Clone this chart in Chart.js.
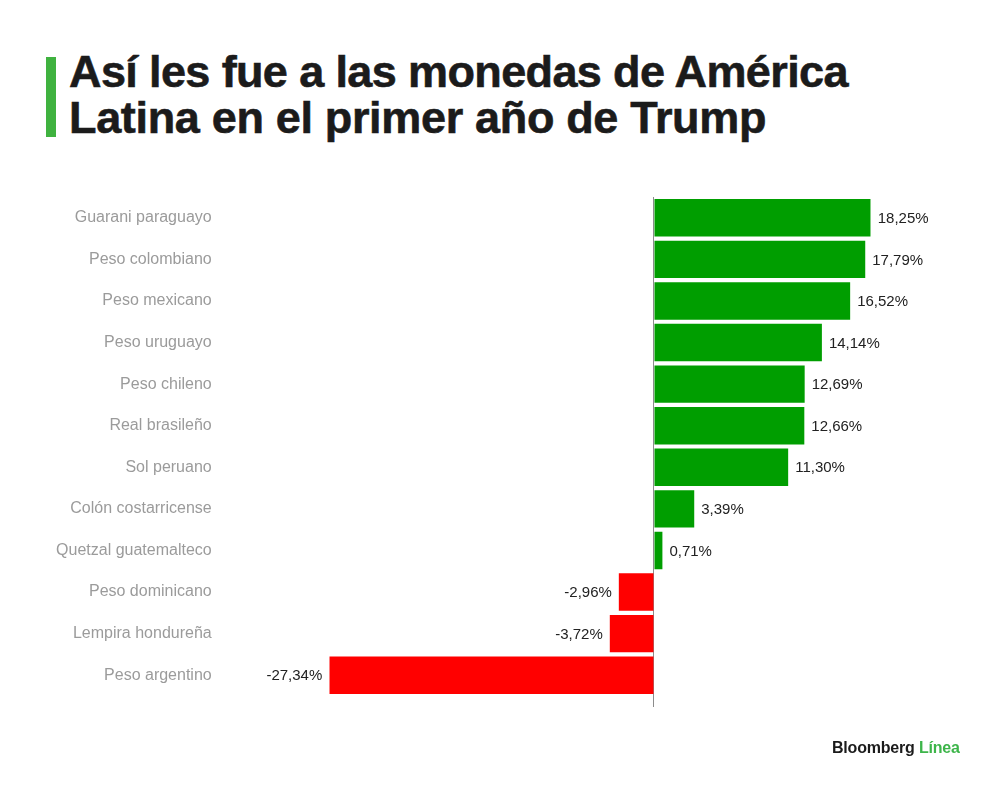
<!DOCTYPE html>
<html>
<head>
<meta charset="utf-8">
<script src="https://cdn.jsdelivr.net/npm/chart.js@4.4.1/dist/chart.umd.min.js"></script>
<style>
  html, body { margin: 0; padding: 0; background: #ffffff; }
  body { width: 1000px; height: 790px; position: relative; overflow: hidden; }
  #wrap { position: absolute; left: 0; top: 0; width: 1000px; height: 790px; }
  #bar { position: absolute; left: 46px; top: 57px; width: 10px; height: 80px; background: #3fb23f; }
  #title { position: absolute; left: 69px; top: 49px; font-family: "Liberation Sans", Arial, sans-serif;
           font-weight: bold; font-size: 45px; line-height: 45.5px; color: #1b1b1b; white-space: nowrap;
           -webkit-text-stroke: 0.6px #1b1b1b; }
  #title span { display: block; }
  #logo { position: absolute; left: 832px; top: 739px; font-family: "Liberation Sans", Arial, sans-serif;
          font-weight: bold; font-size: 16px; color: #1b1b1b; white-space: nowrap; letter-spacing: -0.2px; }
  #logo b { color: #3db54a; }
</style>
</head>
<body>
<div id="bar"></div>
<div id="title"><span id="t1">Así les fue a las monedas de América</span><span id="t2">Latina en el primer año de Trump</span></div>
<div id="wrap"><canvas id="c" width="1000" height="790"></canvas></div>
<div id="logo">Bloomberg <b>Línea</b></div>
<script>
const categories = [
  "Guarani paraguayo", "Peso colombiano", "Peso mexicano", "Peso uruguayo",
  "Peso chileno", "Real brasileño", "Sol peruano", "Colón costarricense",
  "Quetzal guatemalteco", "Peso dominicano", "Lempira hondureña", "Peso argentino"
];
const changes = [18.25, 17.79, 16.52, 14.14, 12.69, 12.66, 11.30, 3.39, 0.71, -2.96, -3.72, -27.34];
const xMin = -27.34;
const xMax = 18.25;

// fit title line widths
(function fitTitle() {
  const targets = { t1: 779, t2: 697 };
  for (const id in targets) {
    const el = document.getElementById(id);
    el.style.display = 'inline-block';
    const w = el.getBoundingClientRect().width;
    const n = el.textContent.length;
    const ls = (targets[id] - w) / n;
    el.style.letterSpacing = ls.toFixed(2) + 'px';
    el.style.display = 'block';
  }
})();

const valueLabels = {
  id: 'valueLabels',
  afterDatasetsDraw(chart) {
    const ctx = chart.ctx;
    const meta = chart.getDatasetMeta(0);
    const data = chart.data.datasets[0].data;
    ctx.save();
    ctx.font = '15px "Liberation Sans", Arial, sans-serif';
    ctx.fillStyle = '#222222';
    ctx.textBaseline = 'middle';
    meta.data.forEach((el, i) => {
      const v = data[i];
      const txt = v.toFixed(2).replace('.', ',') + '%';
      if (v >= 0) { ctx.textAlign = 'left'; ctx.fillText(txt, el.x + 7, el.y + 1); }
      else { ctx.textAlign = 'right'; ctx.fillText(txt, el.x - 7, el.y + 1); }
    });
    ctx.restore();
  }
};

const chart = new Chart(document.getElementById('c'), {
  type: 'bar',
  data: {
    labels: categories,
    datasets: [{
      data: changes,
      backgroundColor: changes.map(v => v >= 0 ? '#009e00' : '#ff0000'),
      borderWidth: 0,
      categoryPercentage: 1.0,
      barPercentage: 0.9
    }]
  },
  options: {
    indexAxis: 'y',
    responsive: false,
    animation: false,
    devicePixelRatio: 1,
    layout: { padding: { left: 0, right: 129.3, top: 197, bottom: 83 } },
    plugins: { legend: { display: false }, tooltip: { enabled: false }, title: { display: false } },
    scales: {
      x: {
        min: xMin, max: xMax,
        afterBuildTicks: (scale) => { scale.ticks = [{ value: 0 }]; },
        afterFit: (scale) => { scale.height = 11; scale.paddingLeft = 0; scale.paddingRight = 0; },
        ticks: { display: false },
        border: { display: false },
        grid: {
          drawTicks: true, tickLength: 11, lineWidth: 1,
          color: (c) => (c.tick && c.tick.value === 0) ? '#8c8c8c' : 'rgba(0,0,0,0)'
        }
      },
      y: {
        afterFit: (scale) => { scale.width = 329.3; scale.paddingTop = 0; scale.paddingBottom = 0; },
        border: { display: false },
        grid: { display: false, drawTicks: false },
        ticks: {
          padding: 117.6,
          color: '#9b9b9b',
          font: { family: '"Liberation Sans", Arial, sans-serif', size: 16 }
        }
      }
    }
  },
  plugins: [valueLabels]
});
</script>
</body>
</html>
